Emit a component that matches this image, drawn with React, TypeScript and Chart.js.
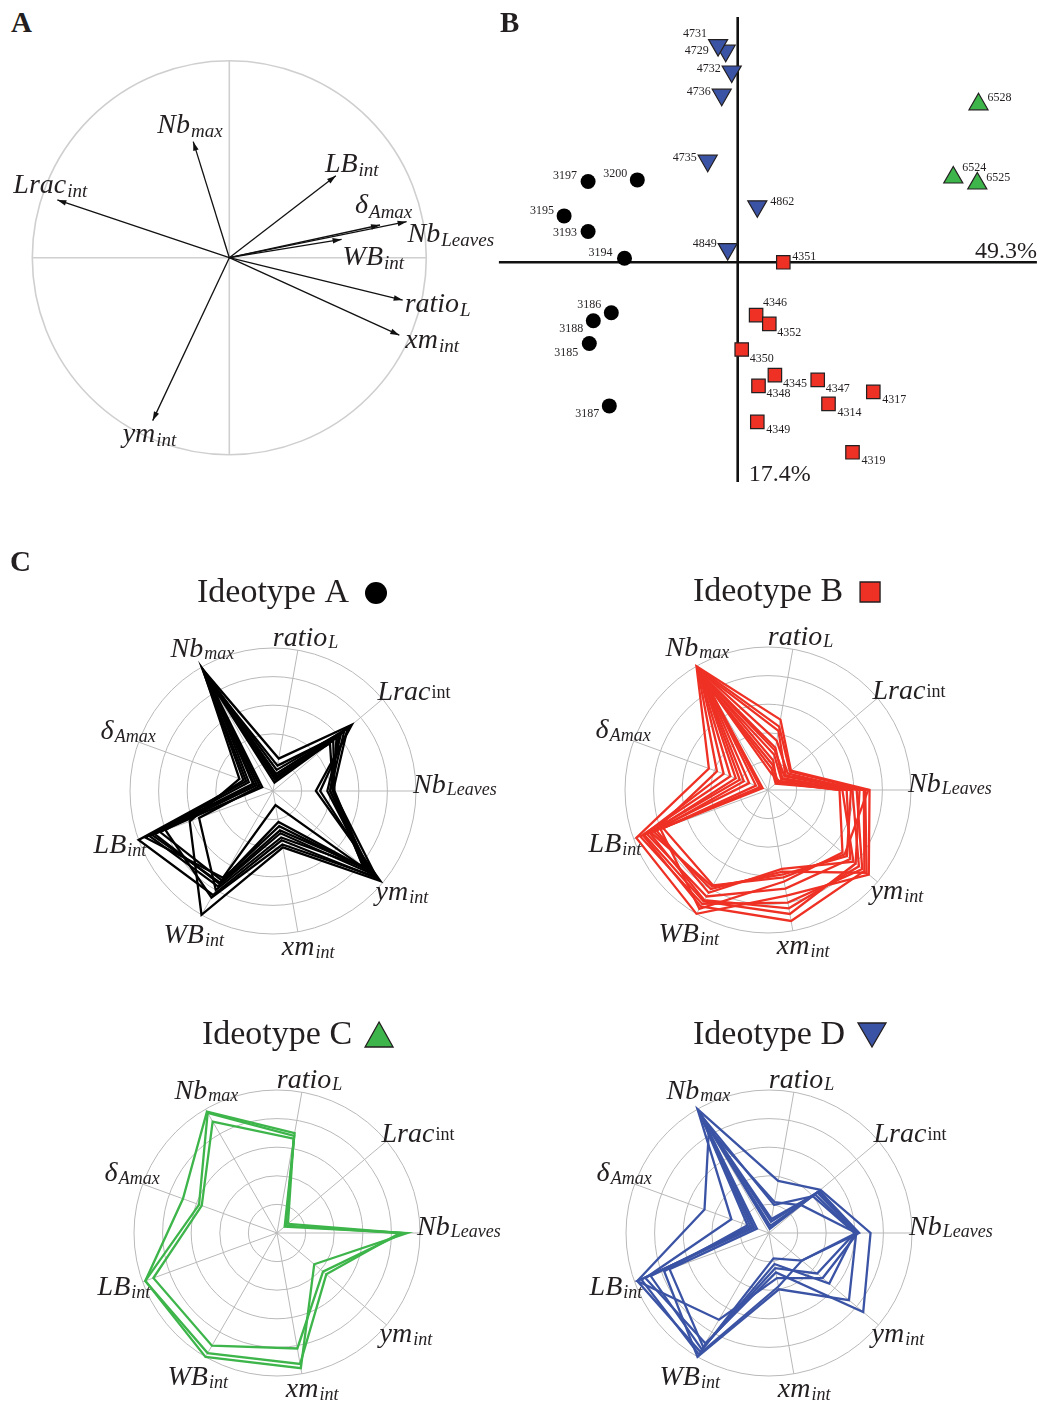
import React, { useEffect, useRef } from "react";
import { Chart, registerables } from "chart.js";
Chart.register(...registerables);

const SERIF = '"Liberation Serif","Times New Roman",Times,serif';
const INK = "#231f20";
const RED = "#ee3124";
const GREEN = "#3db54a";
const BLUE = "#3a53a4";

// ---------- Panel A : correlation circle (variable loadings) ----------
const varMain = ["Nb", "LB", "Lrac", "δ", "Nb", "WB", "ratio", "xm", "ym"];
const varSub = ["max", "int", "int", "Amax", "Leaves", "int", "L", "int", "int"];
const loadX = [-0.183, 0.541, -0.873, 0.765, 0.9, 0.57, 0.88, 0.863, -0.389];
const loadY = [0.589, 0.416, 0.293, 0.166, 0.183, 0.093, -0.215, -0.393, -0.827];

// ---------- Panel B : individual scores ----------
const idsA = ["3197", "3200", "3195", "3193", "3194", "3186", "3188", "3185", "3187"];
const pc1A = [-3.74, -2.51, -4.34, -3.74, -2.83, -3.16, -3.61, -3.71, -3.21];
const pc2A = [2.02, 2.06, 1.16, 0.77, 0.1, -1.26, -1.46, -2.03, -3.59];
const idsB = ["4351", "4346", "4352", "4350", "4345", "4348", "4347", "4317", "4314", "4349", "4319"];
const pc1B = [1.14, 0.46, 0.79, 0.1, 0.93, 0.52, 2.0, 3.39, 2.27, 0.49, 2.87];
const pc2B = [0.0, -1.32, -1.54, -2.18, -2.82, -3.09, -2.94, -3.24, -3.54, -3.99, -4.75];
const idsC = ["6528", "6524", "6525"];
const pc1C = [6.02, 5.39, 5.99];
const pc2C = [3.95, 2.12, 1.97];
const idsD = ["4729", "4731", "4732", "4736", "4735", "4862", "4849"];
const pc1D = [-0.3, -0.49, -0.15, -0.4, -0.75, 0.49, -0.25];
const pc2D = [5.29, 5.43, 4.77, 4.19, 2.54, 1.4, 0.33];
const axisPct = ["49.3%", "17.4%"];

// ---------- Panel C : radar profiles (normalised 0..1) ----------
const radarMain = ["ratio", "Lrac", "Nb", "ym", "xm", "WB", "LB", "δ", "Nb"];
const radarSub = ["L", "int", "Leaves", "int", "int", "int", "int", "Amax", "max"];
const ideoA = [
  [0.23, 0.72, 0.3, 0.98, 0.4, 1.0, 0.62, 0.25, 0.98],
  [0.15, 0.68, 0.42, 0.95, 0.35, 0.84, 1.0, 0.2, 0.97],
  [0.12, 0.6, 0.4, 0.9, 0.3, 0.77, 0.92, 0.15, 0.95],
  [0.1, 0.55, 0.43, 0.86, 0.25, 0.72, 0.84, 0.12, 0.93],
  [0.08, 0.65, 0.4, 0.83, 0.33, 0.8, 0.55, 0.1, 0.96],
  [0.18, 0.62, 0.38, 0.88, 0.1, 0.7, 0.95, 0.18, 0.9],
  [0.06, 0.58, 0.42, 0.82, 0.28, 0.75, 0.88, 0.08, 0.92],
  [0.12, 0.7, 0.33, 0.93, 0.38, 0.86, 0.8, 0.22, 0.99],
  [0.1, 0.52, 0.42, 0.85, 0.22, 0.74, 0.9, 0.14, 0.94],
];
const ideoB = [
  [0.5, 0.21, 0.71, 0.92, 0.75, 1.0, 0.98, 0.44, 1.0],
  [0.42, 0.16, 0.67, 0.88, 0.93, 0.94, 0.93, 0.33, 0.97],
  [0.3, 0.13, 0.59, 0.83, 0.84, 0.89, 0.88, 0.24, 0.95],
  [0.21, 0.08, 0.52, 0.78, 0.56, 0.83, 0.83, 0.18, 0.92],
  [0.12, 0.1, 0.7, 0.7, 0.62, 0.77, 0.78, 0.09, 0.88],
  [0.35, 0.18, 0.62, 0.86, 0.8, 0.92, 0.95, 0.28, 0.98],
  [0.25, 0.12, 0.55, 0.75, 0.7, 0.86, 0.9, 0.14, 0.9],
  [0.45, 0.2, 0.68, 0.9, 0.58, 0.8, 0.85, 0.38, 0.99],
  [0.18, 0.09, 0.5, 0.68, 0.65, 0.96, 0.8, 0.06, 0.86],
  [0.28, 0.15, 0.64, 0.8, 0.88, 0.9, 0.92, 0.21, 0.94],
  [0.15, 0.07, 0.58, 0.72, 0.6, 0.78, 0.87, 0.04, 0.87],
];
const ideoC = [
  [0.71, 0.07, 0.91, 0.34, 0.96, 1.0, 0.98, 0.7, 0.98],
  [0.67, 0.1, 0.88, 0.42, 0.82, 0.91, 0.92, 0.56, 0.9],
  [0.69, 0.08, 0.86, 0.45, 0.93, 0.97, 0.98, 0.58, 0.97],
];
const ideoD = [
  [0.22, 0.3, 0.61, 0.3, 0.18, 0.96, 0.98, 0.48, 0.84],
  [0.37, 0.47, 0.71, 0.86, 0.28, 0.89, 0.92, 0.28, 1.0],
  [0.05, 0.44, 0.61, 0.73, 0.4, 1.0, 0.78, 0.16, 0.98],
  [0.08, 0.45, 0.62, 0.49, 0.32, 0.7, 0.98, 0.11, 0.97],
  [0.2, 0.4, 0.6, 0.44, 0.25, 0.92, 0.74, 0.09, 0.95],
  [0.03, 0.46, 0.63, 0.3, 0.38, 0.98, 0.95, 0.12, 0.99],
  [0.1, 0.42, 0.6, 0.55, 0.22, 0.94, 0.88, 0.14, 0.96],
];

// ---------- styling helpers (placement of labels) ----------
const corrLabelShift = [[-36, -9], [-11, -4], [-44, -7], [-25, -12], [1, 20], [1, 26], [2, 12], [6, 13], [-30, 21]];
const corrSubShift = [4, 4, 4, 5, 4, 4, 4, 4, 4];
const scoreShiftA = [[-11, -3], [-10, -3], [-10, -2], [-11, 4], [-12, -2], [-10, -5], [-10, 11], [-11, 12], [-10, 11]];
const scoreShiftB = [[9, -2], [7, -9], [8, 12], [8, 12], [8, 12], [8, 11], [8, 12], [9, 11], [9, 12], [9, 11], [9, 12]];
const scoreShiftC = [[9, -3], [9, -7], [9, -3]];
const scoreShiftD = [[-17, 3], [-11, -8], [-11, 0], [-11, 0], [-11, 0], [13, -1], [-11, -2]];
const radarLabelShift = [[-25, -4], [-5, 1], [-3, 2], [-7, 17], [-16, 23], [-38, 28], [-45, 13], [-38, -3], [-31, -10]];
const radarSubShift = [2, -2, 2, 3, 3, 3, 3, 3, 2];
const radarSubItalic = [true, false, true, true, true, true, true, true, true];

function drawSubLabel(
  ctx: CanvasRenderingContext2D,
  main: string,
  sub: string,
  x: number,
  y: number,
  mainPx: number,
  subPx: number,
  subDy: number,
  subItalic = true
) {
  ctx.font = `italic ${mainPx}px ${SERIF}`;
  ctx.textAlign = "left";
  ctx.textBaseline = "alphabetic";
  ctx.fillText(main, x, y);
  const w = ctx.measureText(main).width;
  ctx.font = `${subItalic ? "italic " : ""}${subPx}px ${SERIF}`;
  ctx.fillText(sub, x + w + 1, y + subDy);
}

function drawMarker(ctx: CanvasRenderingContext2D, kind: string, cx: number, cy: number) {
  ctx.save();
  ctx.lineWidth = 1.3;
  ctx.strokeStyle = INK;
  ctx.beginPath();
  if (kind === "circle") {
    ctx.fillStyle = "#000";
    ctx.arc(cx, cy, 11, 0, Math.PI * 2);
    ctx.fill();
  } else if (kind === "square") {
    ctx.fillStyle = RED;
    ctx.rect(cx - 10, cy - 10, 20, 20);
    ctx.fill();
    ctx.stroke();
  } else if (kind === "up") {
    ctx.fillStyle = GREEN;
    ctx.moveTo(cx, cy - 13);
    ctx.lineTo(cx + 14, cy + 12);
    ctx.lineTo(cx - 14, cy + 12);
    ctx.closePath();
    ctx.fill();
    ctx.stroke();
  } else {
    ctx.fillStyle = BLUE;
    ctx.moveTo(cx - 14, cy - 12);
    ctx.lineTo(cx + 14, cy - 12);
    ctx.lineTo(cx, cy + 12);
    ctx.closePath();
    ctx.fill();
    ctx.stroke();
  }
  ctx.restore();
}

// ---------- plugins ----------
const corrPlugin = {
  id: "corr",
  beforeDatasetsDraw(chart: any) {
    const { ctx, scales } = chart;
    const xs = scales.x, ys = scales.y;
    const ox = xs.getPixelForValue(0), oy = ys.getPixelForValue(0);
    const r = xs.getPixelForValue(1) - ox;
    ctx.save();
    ctx.strokeStyle = "#cfcfcf";
    ctx.lineWidth = 1.6;
    ctx.beginPath();
    ctx.arc(ox, oy, r, 0, Math.PI * 2);
    ctx.stroke();
    ctx.beginPath();
    ctx.moveTo(xs.getPixelForValue(-1), oy);
    ctx.lineTo(xs.getPixelForValue(1), oy);
    ctx.moveTo(ox, ys.getPixelForValue(1));
    ctx.lineTo(ox, ys.getPixelForValue(-1));
    ctx.stroke();
    ctx.restore();
  },
  afterDatasetsDraw(chart: any) {
    const { ctx } = chart;
    ctx.save();
    chart.data.datasets.forEach((_d: any, i: number) => {
      const meta = chart.getDatasetMeta(i);
      const p0 = meta.data[0], p1 = meta.data[1];
      const a = Math.atan2(p1.y - p0.y, p1.x - p0.x);
      const L = 9, W = 2.8;
      ctx.fillStyle = "#111";
      ctx.beginPath();
      ctx.moveTo(p1.x, p1.y);
      ctx.lineTo(p1.x - L * Math.cos(a) + W * Math.sin(a), p1.y - L * Math.sin(a) - W * Math.cos(a));
      ctx.lineTo(p1.x - L * Math.cos(a) - W * Math.sin(a), p1.y - L * Math.sin(a) + W * Math.cos(a));
      ctx.closePath();
      ctx.fill();
      ctx.fillStyle = INK;
      const [dx, dy] = corrLabelShift[i];
      drawSubLabel(ctx, varMain[i], varSub[i], p1.x + dx, p1.y + dy, 28, 19, corrSubShift[i]);
    });
    ctx.restore();
  },
};

const scorePlugin = {
  id: "scores",
  beforeDatasetsDraw(chart: any) {
    const { ctx, scales } = chart;
    const xs = scales.x, ys = scales.y;
    const ox = xs.getPixelForValue(0), oy = ys.getPixelForValue(0);
    ctx.save();
    ctx.strokeStyle = "#111";
    ctx.lineWidth = 2.6;
    ctx.beginPath();
    ctx.moveTo(xs.getPixelForValue(-5.97), oy);
    ctx.lineTo(xs.getPixelForValue(7.48), oy);
    ctx.moveTo(ox, ys.getPixelForValue(6.13));
    ctx.lineTo(ox, ys.getPixelForValue(-5.49));
    ctx.stroke();
    ctx.fillStyle = INK;
    ctx.font = `24px ${SERIF}`;
    ctx.textAlign = "right";
    ctx.textBaseline = "alphabetic";
    ctx.fillText(axisPct[0], xs.getPixelForValue(7.48), oy - 4);
    ctx.textAlign = "left";
    ctx.fillText(axisPct[1], ox + 11, ys.getPixelForValue(-5.49) - 1);
    ctx.restore();
  },
  afterDatasetsDraw(chart: any) {
    const { ctx } = chart;
    const groups = [
      [idsA, scoreShiftA],
      [idsB, scoreShiftB],
      [idsC, scoreShiftC],
      [idsD, scoreShiftD],
    ];
    ctx.save();
    ctx.fillStyle = INK;
    ctx.font = `12px ${SERIF}`;
    ctx.textBaseline = "alphabetic";
    groups.forEach(([ids, shifts]: any, gi: number) => {
      const meta = chart.getDatasetMeta(gi);
      ids.forEach((id: string, j: number) => {
        const el = meta.data[j];
        const [dx, dy] = shifts[j];
        ctx.textAlign = dx < 0 ? "right" : "left";
        ctx.fillText(id, el.x + dx, el.y + dy);
      });
    });
    ctx.restore();
  },
};

const radarPlugin = {
  id: "radarDeco",
  afterDraw(chart: any, _args: any, opts: any) {
    const { ctx } = chart;
    const sc = chart.scales.r;
    ctx.save();
    ctx.fillStyle = INK;
    radarMain.forEach((m, i) => {
      const p = sc.getPointPosition(i, sc.drawingArea);
      const [dx, dy] = radarLabelShift[i];
      drawSubLabel(ctx, m, radarSub[i], p.x + dx, p.y + dy, 28, 18, radarSubShift[i], radarSubItalic[i]);
    });
    // title with marker
    ctx.font = `34px ${SERIF}`;
    ctx.textAlign = "left";
    ctx.textBaseline = "alphabetic";
    const tw = ctx.measureText(opts.title).width;
    const total = tw + 14 + 24;
    const x0 = sc.xCenter + 19 - total / 2;
    const by = sc.yCenter - 189;
    ctx.fillStyle = INK;
    ctx.fillText(opts.title, x0, by);
    drawMarker(ctx, opts.marker, x0 + tw + 15 + 12, by - 9);
    ctx.restore();
  },
};

// ---------- configs ----------
function corrConfig(): any {
  return {
    type: "scatter",
    data: {
      datasets: loadX.map((x, i) => ({
        data: [{ x: 0, y: 0 }, { x, y: loadY[i] }],
        showLine: true,
        borderColor: "#111",
        borderWidth: 1.3,
        pointRadius: 0,
        clip: false,
      })),
    },
    options: {
      responsive: false,
      animation: false,
      devicePixelRatio: 1,
      events: [],
      layout: { autoPadding: false, padding: 0 },
      plugins: { legend: { display: false }, tooltip: { enabled: false } },
      scales: {
        x: { type: "linear", display: false, min: -1.164, max: 1.4756 },
        y: { type: "linear", display: false, min: -1.1284, max: 1.1051 },
      },
    },
    plugins: [corrPlugin],
  };
}

function scoreConfig(): any {
  const pts = (xs: number[], ys: number[]) => xs.map((x, i) => ({ x, y: ys[i] }));
  return {
    type: "scatter",
    data: {
      datasets: [
        { data: pts(pc1A, pc2A), pointStyle: "circle", pointRadius: 7.5, backgroundColor: "#000", borderColor: "#000", borderWidth: 0, clip: false },
        { data: pts(pc1B, pc2B), pointStyle: "rect", pointRadius: 9.5, backgroundColor: RED, borderColor: INK, borderWidth: 1.2, clip: false },
        { data: pts(pc1C, pc2C), pointStyle: "triangle", pointRadius: 11, backgroundColor: GREEN, borderColor: INK, borderWidth: 1.2, clip: false },
        { data: pts(pc1D, pc2D), pointStyle: "triangle", pointRotation: 180, pointRadius: 11, backgroundColor: BLUE, borderColor: INK, borderWidth: 1.2, clip: false },
      ],
    },
    options: {
      responsive: false,
      animation: false,
      devicePixelRatio: 1,
      events: [],
      layout: { autoPadding: false, padding: 0 },
      plugins: { legend: { display: false }, tooltip: { enabled: false } },
      scales: {
        x: { type: "linear", display: false, min: -6.0675, max: 7.5575 },
        y: { type: "linear", display: false, min: -5.6925, max: 6.3075 },
      },
    },
    plugins: [scorePlugin],
  };
}

function radarConfig(rows: number[][], color: string, title: string, marker: string): any {
  return {
    type: "radar",
    data: {
      labels: radarMain.map((m, i) => m + radarSub[i]),
      datasets: rows.map((r) => ({
        data: r,
        borderColor: color,
        borderWidth: 2.3,
        pointRadius: 0,
        fill: false,
        tension: 0,
      })),
    },
    options: {
      responsive: false,
      animation: false,
      devicePixelRatio: 1,
      events: [],
      layout: { autoPadding: false, padding: { left: 107, right: 107, top: 77, bottom: 57 } },
      plugins: { legend: { display: false }, tooltip: { enabled: false }, radarDeco: { title, marker } },
      scales: {
        r: {
          min: 0,
          max: 1,
          startAngle: 10,
          ticks: { display: false, stepSize: 0.2 },
          grid: { circular: true, color: "#b9b9b9", lineWidth: 1 },
          angleLines: { color: "#b9b9b9", lineWidth: 1 },
          pointLabels: { display: false },
        },
      },
    },
    plugins: [radarPlugin],
  };
}

function ChartBox(props: { left: number; top: number; width: number; height: number; make: () => any }) {
  const ref = useRef<HTMLCanvasElement>(null);
  useEffect(() => {
    const chart = new Chart(ref.current as HTMLCanvasElement, props.make());
    return () => chart.destroy();
  }, []);
  return (
    <canvas
      ref={ref}
      width={props.width}
      height={props.height}
      style={{ position: "absolute", left: props.left, top: props.top, width: props.width, height: props.height }}
    />
  );
}

const letterStyle = (left: number, top: number): React.CSSProperties => ({
  position: "absolute",
  left,
  top,
  font: `bold 29px ${SERIF}`,
  lineHeight: "29px",
  color: INK,
  margin: 0,
});

export default function App() {
  return (
    <div style={{ position: "absolute", left: 0, top: 0, width: 1045, height: 1401, overflow: "hidden", background: "#fff" }}>
      <ChartBox left={0} top={40} width={520} height={440} make={corrConfig} />
      <ChartBox left={495} top={10} width={545} height={480} make={scoreConfig} />
      <ChartBox left={23} top={571} width={500} height={420} make={() => radarConfig(ideoA, "#000", "Ideotype A", "circle")} />
      <ChartBox left={518} top={570} width={500} height={420} make={() => radarConfig(ideoB, RED, "Ideotype B", "square")} />
      <ChartBox left={27} top={1013} width={500} height={420} make={() => radarConfig(ideoC, GREEN, "Ideotype C", "up")} />
      <ChartBox left={519} top={1013} width={500} height={420} make={() => radarConfig(ideoD, BLUE, "Ideotype D", "down")} />
      <div style={letterStyle(11, 8)}>A</div>
      <div style={letterStyle(500, 8)}>B</div>
      <div style={letterStyle(10, 547)}>C</div>
    </div>
  );
}
